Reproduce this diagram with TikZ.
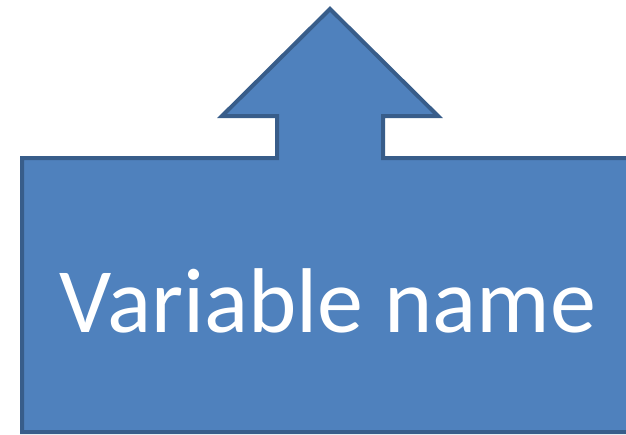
\documentclass[tikz,border=0pt]{standalone}
\usepackage{fontspec}
\setmainfont{Carlito}
\definecolor{shapefill}{HTML}{4F81BD}
\definecolor{shapeline}{HTML}{385D8A}
\tikzset{
  callout/.style={fill=shapefill, draw=shapeline, line width=4pt, line join=miter},
  label/.style={text=white, font=\fontsize{92}{110}\selectfont, inner sep=0pt, anchor=base}
}
\begin{document}
\begin{tikzpicture}[x=1pt,y=-1pt]
\useasboundingbox (0,0) rectangle (626,434);
\clip (0,0) rectangle (626,434);
\path[callout] (22,158) -- (277,158) -- (277,116) -- (222,116) -- (330,9)
  -- (438,116) -- (383,116) -- (383,158) -- (650,158) -- (650,432)
  -- (22,432) -- cycle;
\node[label] (name) at (328,332) {Variable name};
\end{tikzpicture}
\end{document}
